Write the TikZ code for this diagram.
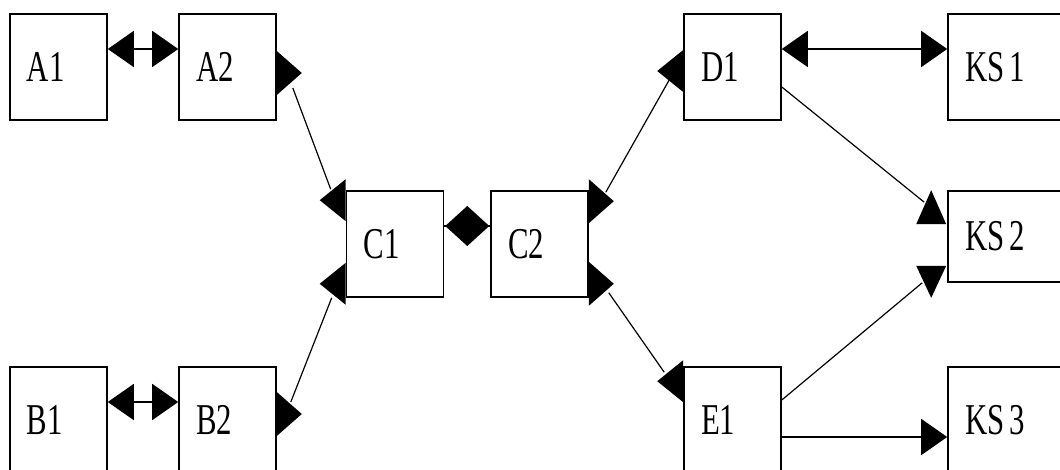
\documentclass[tikz,border=0pt]{standalone}
\usepackage{fontspec}
\setmainfont[FakeStretch=0.7]{Liberation Serif}
\usetikzlibrary{arrows.meta}
\usetikzlibrary{positioning}
\tikzset {
  % the boxes
  box/.style = {draw, rectangle, line width=1.6pt, minimum height=106pt,
    inner xsep=17pt, text width=63pt, align=left,
    font=\fontsize{44pt}{50pt}\selectfont},
  wide/.style = {text width=96pt},
  low/.style = {minimum height=91pt},
  % connectors
  link/.style = {line width=1.2pt},
  twoway/.style = {line width=1.6pt, {Triangle[length=26pt, width=36pt]}-{Triangle[length=26pt, width=36pt]}},
  oneway/.style = {line width=1.6pt, -{Triangle[length=26pt, width=36pt]}},
  % heads standing on a side of a box
  headR/.pic = {\fill (0,-22) -- (25,0) -- (0,22) -- cycle;},
  headL/.pic = {\fill (0,-21) -- (-26,0) -- (0,21) -- cycle;},
  headU/.pic = {\fill (-15,0) -- (0,-34) -- (15,0) -- cycle;},
  headD/.pic = {\fill (-15,0) -- (0,32) -- (15,0) -- cycle;},
  rhombhead/.pic = {\fill (-22,0) -- (0,-20) -- (22,0) -- (0,20) -- cycle;},
}
\newcommand{\ks}[1]{KS\hspace{5pt}#1}
\begin{document}
\begin{tikzpicture}[x=1pt, y=-1pt]
  \useasboundingbox (0,0) rectangle (1060,470);
  \clip (0,0) rectangle (1060,470);
  \fill[white] (0,0) rectangle (1060,470);

  \node[box] (A1) at (58.5,67) {A1};
  \node[box] (A2) at (227.5,67) {A2};
  \node[box] (B1) at (58.5,420) {B1};
  \node[box] (B2) at (227.5,420) {B2};
  \node[box] (C1) at (395,244) {C1};
  \node[box] (C2) at (539.5,244) {C2};
  \node[box] (D1) at (732.5,67) {D1};
  \node[box] (E1) at (732.5,420) {E1};
  \node[box, wide] (KS1) at (1013,67) {\ks{1}};
  \node[box, wide, low] (KS2) at (1013,236.5) {\ks{2}};
  \node[box, wide] (KS3) at (1013,420) {\ks{3}};

  % straight links
  \draw[twoway] ([shift={(0,-18)}]A1.east) -- ([shift={(0,-18)}]A2.west);
  \draw[twoway] ([shift={(0,-18)}]B1.east) -- ([shift={(0,-18)}]B2.west);
  \draw[line width=1.6pt] ([shift={(0,-18)}]C1.east) -- pic[midway]{rhombhead} ([shift={(0,-18)}]C2.west);
  \draw[twoway] ([shift={(0,-18)}]D1.east) -- ([shift={(0,-18)}]KS1.west);
  \draw[oneway] ([shift={(0,17)}]E1.east) -- ([shift={(0,17)}]KS3.west);

  % slanted links
  \draw[link] ([shift={(16,21)}]A2.east) -- ([shift={(-15,-1)}]C1.north west);
  \draw[link] ([shift={(14,-18)}]B2.east) -- ([shift={(-14,0)}]C1.south west);
  \draw[link] ([shift={(17,2)}]C2.north east) -- ([shift={(-14,13)}]D1.west);
  \draw[link] ([shift={(20,-5)}]C2.south east) -- ([shift={(-19,6)}]E1.north west);
  \draw[link] ([shift={(0,20)}]D1.east) -- ([shift={(-23,12)}]KS2.north west);
  \draw[link] ([shift={(0,-20)}]E1.east) -- ([shift={(-25,0)}]KS2.south west);

  % heads of the slanted links
  \pic at ([shift={(0,6)}]A2.east) {headR};
  \pic at ([shift={(0,-6)}]B2.east) {headR};
  \pic at ([shift={(0,10)}]C1.north west) {headL};
  \pic at ([shift={(0,-14)}]C1.south west) {headL};
  \pic at ([shift={(0,11)}]C2.north east) {headR};
  \pic at ([shift={(0,-14)}]C2.south east) {headR};
  \pic at ([shift={(0,4)}]D1.west) {headL};
  \pic at ([shift={(0,15)}]E1.north west) {headL};
  \pic at ([shift={(-16,34)}]KS2.north west) {headU};
  \pic at ([shift={(-16,-17)}]KS2.south west) {headD};
\end{tikzpicture}
\end{document}
